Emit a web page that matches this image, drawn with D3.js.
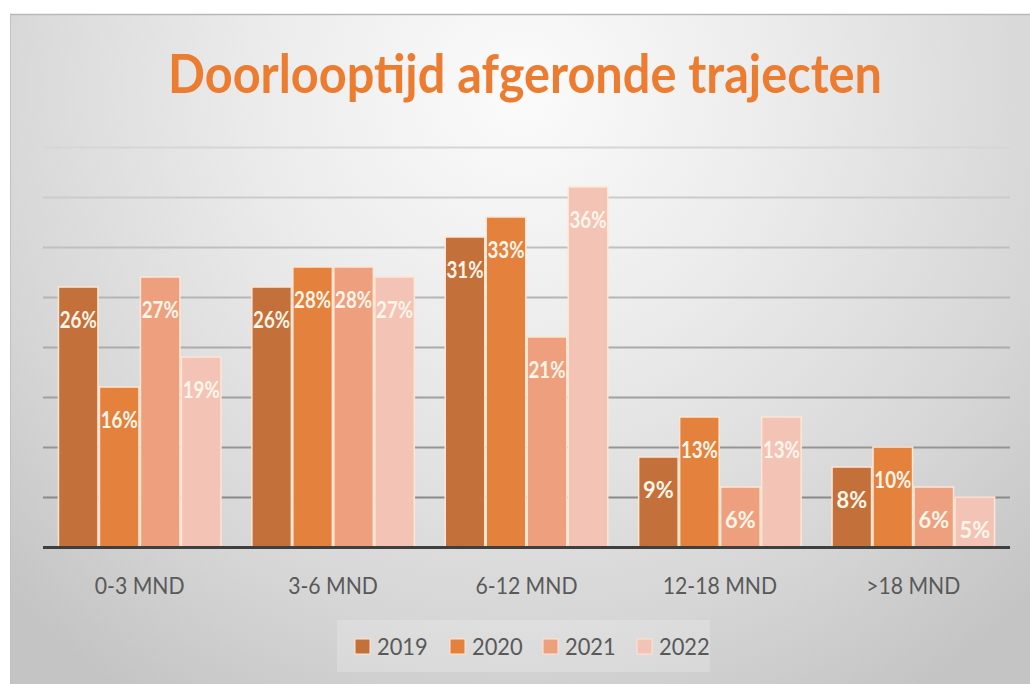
<!DOCTYPE html>
<html>
<head>
<meta charset="utf-8">
<script src="https://cdn.jsdelivr.net/npm/d3@7"></script>
<style>
  html, body { margin: 0; padding: 0; background: #ffffff; }
  svg { display: block; }
</style>
</head>
<body>
<svg id="chart" width="1030" height="684"></svg>
<script>
// ---- data ----
const title = "Doorlooptijd afgeronde trajecten";
const categories = ["0-3 MND", "3-6 MND", "6-12 MND", "12-18 MND", ">18 MND"];
const years = ["2019", "2020", "2021", "2022"];
const values2019 = [26, 26, 31, 9, 8];
const values2020 = [16, 28, 33, 13, 10];
const values2021 = [27, 28, 21, 6, 6];
const values2022 = [19, 27, 36, 13, 5];
const yMax = 40;
const yTickStep = 5;

const seriesValues = [values2019, values2020, values2021, values2022];
const colors = ["#c4703a", "#e4813c", "#eea07e", "#f3c3b6"];

const svg = d3.select("#chart");
const W = 1030, H = 684;

// ---- background ----
const defs = svg.append("defs");
const bg = defs.append("radialGradient")
  .attr("id", "bgGrad")
  .attr("gradientUnits", "userSpaceOnUse")
  .attr("cx", 520).attr("cy", 90).attr("r", 720)
  .attr("fx", 520).attr("fy", 90);
bg.append("stop").attr("offset", "0").attr("stop-color", "#fbfbfb");
bg.append("stop").attr("offset", "0.35").attr("stop-color", "#ececec");
bg.append("stop").attr("offset", "0.75").attr("stop-color", "#d6d6d6");
bg.append("stop").attr("offset", "1").attr("stop-color", "#c4c4c4");

svg.append("rect")
  .attr("x", 10).attr("y", 14).attr("width", W - 10).attr("height", H - 14)
  .attr("fill", "url(#bgGrad)");
svg.append("line")
  .attr("x1", 10).attr("x2", W).attr("y1", 14.5).attr("y2", 14.5)
  .attr("stroke", "#b8b8b8").attr("stroke-width", 1.5);
svg.append("line")
  .attr("x1", 10.5).attr("x2", 10.5).attr("y1", 14).attr("y2", H)
  .attr("stroke", "#c0c0c0").attr("stroke-width", 1);

// ---- title ----
svg.append("text")
  .attr("x", 525).attr("y", 93)
  .attr("text-anchor", "middle")
  .attr("font-family", "Lato, 'Open Sans', sans-serif")
  .attr("font-weight", "bold")
  .attr("font-size", 53)
  .attr("textLength", 714)
  .attr("lengthAdjust", "spacingAndGlyphs")
  .attr("fill", "#eb7c30")
  .text(title);

// ---- scales ----
const plotLeft = 43, plotRight = 1010, plotTop = 147, plotBottom = 547;
const x0 = d3.scaleBand().domain(categories)
  .range([plotLeft, plotRight]).paddingInner(0.152).paddingOuter(0.076);
const x1 = d3.scaleBand().domain(years).range([0, x0.bandwidth()]).padding(0);
const y = d3.scaleLinear().domain([0, yMax]).range([plotBottom, plotTop]);

// ---- gridlines ----
const gridTicks = d3.range(yTickStep, yMax + 0.001, yTickStep);
const gridAxis = d3.axisLeft(y).tickValues(gridTicks)
  .tickSize(-(plotRight - plotLeft)).tickFormat("");
const gG = svg.append("g").attr("transform", `translate(${plotLeft},0)`).call(gridAxis);
gG.select(".domain").remove();
gG.selectAll(".tick line")
  .attr("stroke-width", 2.2)
  .attr("stroke", d => d3.interpolateRgb("#d6d6d6", "#8a8a8a")(1 - (d - yTickStep) / (yMax - yTickStep)));

// ---- bars ----
const groups = svg.append("g").selectAll("g")
  .data(categories)
  .join("g")
  .attr("transform", d => `translate(${x0(d)},0)`);

const barData = (cat, ci) => years.map((yr, si) => ({ year: yr, si, value: seriesValues[si][ci] }));

groups.each(function (cat, ci) {
  const g = d3.select(this);
  g.selectAll("rect")
    .data(barData(cat, ci))
    .join("rect")
    .attr("x", d => x1(d.year) + 0.75)
    .attr("y", d => y(d.value))
    .attr("width", x1.bandwidth() - 1.5)
    .attr("height", d => y(0) - y(d.value))
    .attr("fill", d => colors[d.si])
    .attr("stroke", "#fde6d4")
    .attr("stroke-width", 1.5);
});

// ---- axis (baseline + category labels) ----
const xAxis = d3.axisBottom(x0).tickSize(0).tickPadding(0);
const ax = svg.append("g").attr("transform", `translate(0,${plotBottom})`).call(xAxis);
ax.select(".domain").remove();
svg.append("line")
  .attr("x1", plotLeft).attr("x2", plotRight)
  .attr("y1", plotBottom + 0.5).attr("y2", plotBottom + 0.5)
  .attr("stroke", "#3f3f3f").attr("stroke-width", 3);
ax.selectAll(".tick text")
  .attr("y", 47)
  .attr("dy", 0)
  .attr("font-family", "Lato, 'Open Sans', sans-serif")
  .attr("font-size", 23)
  .attr("fill", "#595959")
  .each(function () {
    const len = this.getComputedTextLength();
    d3.select(this).attr("textLength", len * 0.92).attr("lengthAdjust", "spacingAndGlyphs");
  });

// ---- value labels ----
const maxLabelW = x1.bandwidth() - 4;
groups.each(function (cat, ci) {
  const g = d3.select(this);
  g.selectAll("text.val")
    .data(barData(cat, ci))
    .join("text")
    .attr("class", "val")
    .attr("x", d => x1(d.year) + x1.bandwidth() / 2)
    .attr("y", d => y(d.value) + 41)
    .attr("text-anchor", "middle")
    .attr("font-family", "Lato, 'Open Sans', sans-serif")
    .attr("font-weight", "bold")
    .attr("font-size", 23)
    .attr("fill", "#fff6ea")
    .text(d => d.value + "%")
    .each(function () {
      const len = this.getComputedTextLength();
      d3.select(this).attr("textLength", Math.min(len * 0.95, maxLabelW)).attr("lengthAdjust", "spacingAndGlyphs");
    });
});

// ---- legend ----
svg.append("rect")
  .attr("x", 337).attr("y", 620).attr("width", 373).attr("height", 52)
  .attr("fill", "#ffffff").attr("fill-opacity", 0.2);
const legendX = [355, 450, 543, 637];
const lg = svg.append("g").selectAll("g")
  .data(years)
  .join("g")
  .attr("transform", (d, i) => `translate(${legendX[i]},639)`);
lg.append("rect")
  .attr("width", 15).attr("height", 15)
  .attr("fill", (d, i) => colors[i])
  .attr("stroke", "#fde6d4").attr("stroke-width", 1);
lg.append("text")
  .attr("x", 22).attr("y", 16)
  .attr("font-family", "Lato, 'Open Sans', sans-serif")
  .attr("font-size", 23)
  .attr("fill", "#595959")
  .text(d => d)
  .each(function () {
    const len = this.getComputedTextLength();
    d3.select(this).attr("textLength", len * 0.95).attr("lengthAdjust", "spacingAndGlyphs");
  });
</script>
</body>
</html>
